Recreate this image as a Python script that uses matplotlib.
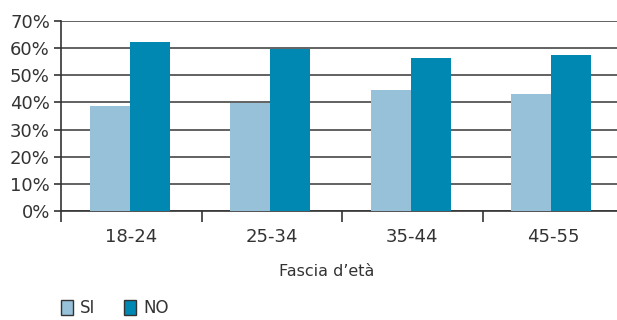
import matplotlib.pyplot as plt
from matplotlib.patches import Patch

categories = ['18-24', '25-34', '35-44', '45-55']
si = [38.7, 39.8, 44.6, 43.1]
no = [62.2, 59.7, 56.4, 57.5]

c_si = '#97c1d9'
c_no = '#0088b3'
txt = '#333333'

plt.rcParams['font.family'] = ['DejaVu Sans']

fig = plt.figure(figsize=(6.17, 3.2), dpi=100)
ax = fig.add_axes([0.0989, 0.3406, 0.911, 0.594])

x = range(len(categories))
w = 0.285
ax.bar([i - w / 2 - 0.01 for i in x], si, width=w, color=c_si, zorder=3)
ax.bar([i + w / 2 - 0.01 for i in x], no, width=w, color=c_no, zorder=3)

ax.set_xlim(-0.5, len(categories) - 0.5)
ax.set_ylim(0, 70)
ax.set_yticks(range(0, 71, 10))
ax.set_yticklabels([f'{v}%' for v in range(0, 71, 10)], fontsize=13, color=txt)
ax.yaxis.grid(True, color='#555555', linewidth=1.3, zorder=0)

# boundaries as major ticks, labels on minor ticks at centres
ax.set_xticks([i - 0.5 for i in range(len(categories) + 1)])
ax.set_xticklabels([])
ax.set_xticks(list(x), minor=True)
ax.set_xticklabels(categories, minor=True, fontsize=13, color=txt)
ax.tick_params(axis='x', which='major', length=8, width=1.2, color='#333333')
ax.tick_params(axis='x', which='minor', length=0, pad=12)
ax.tick_params(axis='y', length=5, width=1.2, color='#333333', pad=3)

for s in ['top', 'right']:
    ax.spines[s].set_visible(False)
for s in ['left', 'bottom']:
    ax.spines[s].set_color('#333333')
    ax.spines[s].set_linewidth(1.2)

ax.set_xlabel('Fascia d’età', fontsize=11.5, color=txt, va='top')
ax.xaxis.set_label_coords(0.473, -0.28)

handles = [Patch(facecolor=c_si, edgecolor='#333333', label='SI'),
           Patch(facecolor=c_no, edgecolor='#333333', label='NO')]
fig.legend(handles=handles, loc='upper left', bbox_to_anchor=(0.088, 0.085),
           ncol=2, frameon=False, fontsize=12, handlelength=0.75, handleheight=1.0,
           handletextpad=0.4, columnspacing=1.7, borderaxespad=0, labelcolor=txt)

fig.savefig('out.png', dpi=100)
